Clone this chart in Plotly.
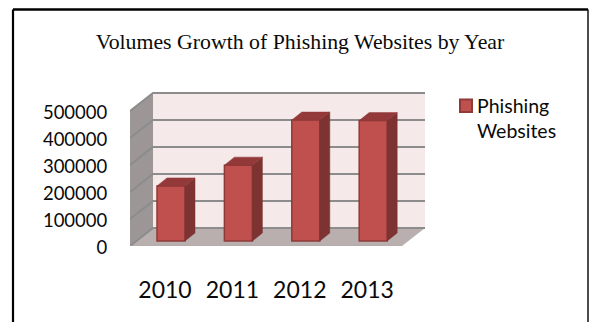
import plotly.graph_objects as go

# Chart data
years = ["2010", "2011", "2012", "2013"]
volumes = [204000, 281000, 448000, 446000]
value_ticks = [0, 100000, 200000, 300000, 400000, 500000]
series_name = "Phishing<br>Websites"
chart_title = "Volumes Growth of Phishing Websites by Year"

# Page and plot geometry in pixels
W, H = 590, 322
PLOT_L, PLOT_R, PLOT_T, PLOT_B = 130, 435, 90, 246
PX_PER_CAT = 67.4
PX_PER_UNIT = 27 / 100000
FIRST_CAT_PX = 165

# Oblique projection: how far the back wall sits from the front plane
WALL_DX, WALL_DY = 23, 18
BAR_SHIFT_DX, BAR_SHIFT_DY = 6, 5
BAR_DEPTH_DX, BAR_DEPTH_DY = 10, 8
BAR_W = 28

FRONT, SIDE, TOP, EDGE = "#C0504D", "#7D3331", "#93393A", "#8E3A38"
BACK_WALL, SIDE_WALL, FLOOR, GRID = "#F5E9E9", "#9C9696", "#B9AFAF", "#8C8C8C"
INK = "#0A0A0A"


def dx(px):
    return px / PX_PER_CAT


def dy(px):
    return px / PX_PER_UNIT


def px_x(px):
    return (px - PLOT_L) / (PLOT_R - PLOT_L)


def px_y(px):
    return (PLOT_B - px) / (PLOT_B - PLOT_T)


x_left = (PLOT_L - FIRST_CAT_PX) / PX_PER_CAT
x_wall_end = x_left + dx(272)
y_top = max(value_ticks)
positions = list(range(len(years)))


def poly(points):
    return "M" + " L".join(f"{x},{y}" for x, y in points) + " Z"


shapes = []


def add_face(points, fill, line=None, width=0):
    shapes.append(dict(type="path", xref="x", yref="y", layer="below", path=poly(points),
                       fillcolor=fill, line=dict(color=line or fill, width=width)))


# Back wall, side wall and floor
wall_x, wall_y = dx(WALL_DX), dy(WALL_DY)
add_face([(x_left + wall_x, wall_y), (x_left + wall_x, y_top + wall_y),
          (x_wall_end + wall_x, y_top + wall_y), (x_wall_end + wall_x, wall_y)], BACK_WALL)
add_face([(x_left, 0), (x_left, y_top), (x_left + wall_x, y_top + wall_y),
          (x_left + wall_x, wall_y)], SIDE_WALL)
add_face([(x_left, 0), (x_left + wall_x, wall_y), (x_wall_end + wall_x, wall_y),
          (x_wall_end, 0)], FLOOR)

# Gridlines wrap from the side wall across the back wall
for tick in value_ticks:
    shapes.append(dict(type="path", xref="x", yref="y", layer="below",
                       path=f"M{x_left},{tick} L{x_left + wall_x},{tick + wall_y} "
                            f"L{x_wall_end + wall_x},{tick + wall_y}",
                       line=dict(color=GRID, width=2)))

# Front edge of the floor
shapes.append(dict(type="line", xref="x", yref="y", layer="below", x0=x_left, x1=x_wall_end,
                   y0=-dy(1), y1=-dy(1), line=dict(color="#A3A3A3", width=2.5)))

# Outer frame of the figure, running off the bottom of the page
for x0, y0, x1, y1, w in [(13, 9.5, 13, 330, 2.2), (13, 9.5, 588, 9.5, 2.5), (588, 9.5, 588, 330, 1.4)]:
    shapes.append(dict(type="line", xref="paper", yref="paper", x0=px_x(x0), x1=px_x(x1),
                       y0=px_y(y0), y1=px_y(y1), line=dict(color="#000000", width=w)))

# Legend key sits beside the first line of the wrapped series name
shapes.append(dict(type="rect", xref="paper", yref="paper", x0=px_x(460), x1=px_x(472),
                   y0=px_y(99.5), y1=px_y(112), fillcolor=FRONT,
                   line=dict(color=EDGE, width=2)))

fig = go.Figure()

bar_base = dy(BAR_SHIFT_DY)
bar_x = [p + dx(BAR_SHIFT_DX) for p in positions]
half = dx(BAR_W) / 2
depth_x, depth_y = dx(BAR_DEPTH_DX), dy(BAR_DEPTH_DY)

fig.add_trace(go.Bar(x=bar_x, y=volumes, base=bar_base, width=dx(BAR_W), name=series_name,
                     marker=dict(color=FRONT, line=dict(color=EDGE, width=1.5)),
                     showlegend=False))

# Side and top faces of each bar follow from its value
for cx, value in zip(bar_x, volumes):
    right, left = cx + half, cx - half
    top = bar_base + value
    side_pts = [(right, bar_base), (right + depth_x, bar_base + depth_y),
                (right + depth_x, top + depth_y), (right, top), (right, bar_base)]
    top_pts = [(left, top), (left + depth_x, top + depth_y), (right + depth_x, top + depth_y),
               (right, top), (left, top)]
    for pts, fill in ((side_pts, SIDE), (top_pts, TOP)):
        fig.add_trace(go.Scatter(x=[p[0] for p in pts], y=[p[1] for p in pts], mode="lines",
                                 fill="toself", fillcolor=fill, line=dict(color=fill, width=0.5),
                                 hoverinfo="skip", showlegend=False))

fig.update_layout(
    width=W, height=H,
    margin=dict(l=PLOT_L, r=W - PLOT_R, t=PLOT_T, b=H - PLOT_B, pad=0),
    paper_bgcolor="white", plot_bgcolor="rgba(0,0,0,0)",
    showlegend=False,
    shapes=shapes,
    annotations=[dict(text=series_name, xref="paper", yref="paper", x=px_x(475), y=px_y(118),
                      xanchor="left", yanchor="middle", align="left", showarrow=False,
                      font=dict(family="Lato", size=19.5, color=INK))],
    title=dict(text=chart_title, x=300 / W, xanchor="center", y=1 - 41 / H, yanchor="middle",
               font=dict(family="Liberation Serif", size=21.8, color=INK)),
    xaxis=dict(range=[x_left, x_left + (PLOT_R - PLOT_L) / PX_PER_CAT], tickvals=positions,
               ticktext=years, ticks="outside", ticklen=23, tickcolor="rgba(0,0,0,0)",
               showgrid=False, zeroline=False, showline=False,
               tickfont=dict(family="Lato", size=23, color=INK)),
    yaxis=dict(range=[0, (PLOT_B - PLOT_T) / PX_PER_UNIT], tickvals=value_ticks,
               tickformat="d", ticks="outside", ticklen=18, tickcolor="rgba(0,0,0,0)",
               ticklabelshift=2,
               showgrid=False, zeroline=False, showline=False,
               tickfont=dict(family="Lato", size=18.5, color=INK)),
)

fig.write_html("out.html")
